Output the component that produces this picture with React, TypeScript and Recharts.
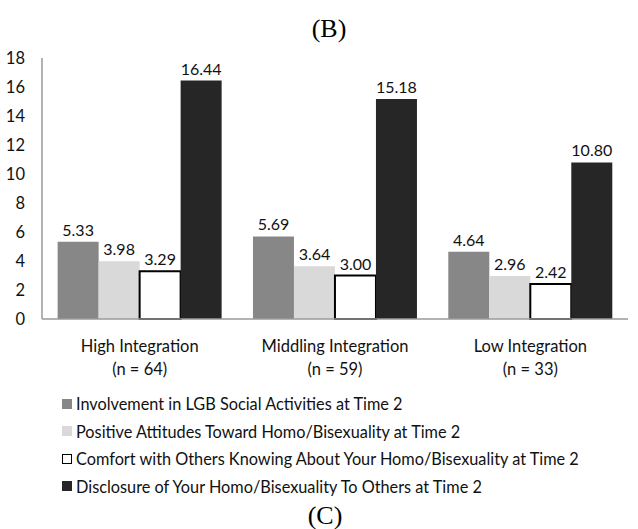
import { BarChart, Bar, XAxis, YAxis, Legend, LabelList } from "recharts";

const categories = ["High Integration", "Middling Integration", "Low Integration"];
const groupSizes = ["(n = 64)", "(n = 59)", "(n = 33)"];

const involvement = [5.33, 5.69, 4.64];
const attitudes = [3.98, 3.64, 2.96];
const comfort = [3.29, 3.0, 2.42];
const disclosure = [16.44, 15.18, 10.8];

const yTicks = [0, 2, 4, 6, 8, 10, 12, 14, 16, 18];

const SERIES = [
    { key: "involvement", name: "Involvement in LGB Social Activities at Time 2", fill: "#878787", stroke: "none" },
    { key: "attitudes", name: "Positive Attitudes Toward Homo/Bisexuality at Time 2", fill: "#d9d9d9", stroke: "none" },
    { key: "comfort", name: "Comfort with Others Knowing About Your Homo/Bisexuality at Time 2", fill: "#ffffff", stroke: "#000000" },
    { key: "disclosure", name: "Disclosure of Your Homo/Bisexuality To Others at Time 2", fill: "#262626", stroke: "none" },
];

const FONT = "Lato, 'Open Sans', sans-serif";

const data = categories.map((name, i) => ({
    name,
    n: groupSizes[i],
    involvement: involvement[i],
    attitudes: attitudes[i],
    comfort: comfort[i],
    disclosure: disclosure[i],
}));

// two line category label: name + group size
function CategoryTick(props: any) {
    const { x, y, payload, index } = props;
    return (
        <g transform={`translate(${x},${y})`}>
            <text textAnchor="middle" fontFamily={FONT} fontSize={16.5} fill="#111">
                <tspan x={0} dy={25}>{payload.value}</tspan>
                <tspan x={0} dy={23}>{groupSizes[index]}</tspan>
            </text>
        </g>
    );
}

function LegendRows() {
    return (
        <div style={{ fontFamily: FONT, fontSize: 16.3, color: "#111" }}>
            {SERIES.map((s) => (
                <div key={s.key} style={{ display: "flex", alignItems: "center", height: 27.5 }}>
                    <span
                        style={{
                            display: "inline-block",
                            width: s.stroke === "none" ? 10 : 8,
                            height: s.stroke === "none" ? 10 : 8,
                            background: s.fill,
                            border: s.stroke === "none" ? "none" : `1px solid ${s.stroke}`,
                            marginRight: 4,
                        }}
                    />
                    <span>{s.name}</span>
                </div>
            ))}
        </div>
    );
}

export default function App() {
    return (
        <div style={{ position: "absolute", left: 0, top: 0, width: 638, height: 529, background: "#fff" }}>
            <div
                style={{
                    position: "absolute",
                    top: 14,
                    width: 638,
                    left: 10,
                    textAlign: "center",
                    fontFamily: "'Liberation Serif', serif",
                    fontSize: 26,
                }}
            >
                (B)
            </div>
            <BarChart
                width={638}
                height={529}
                data={data}
                margin={{ top: 58, right: 10, bottom: 180, left: 0 }}
                barCategoryGap="8%"
                barGap={0}
            >
                <XAxis
                    dataKey="name"
                    height={30}
                    axisLine={{ stroke: "#9a9a9a", strokeWidth: 1.5 }}
                    tickLine={false}
                    tick={<CategoryTick />}
                    interval={0}
                />
                <YAxis
                    domain={[0, 18]}
                    ticks={yTicks}
                    width={42}
                    axisLine={{ stroke: "#9a9a9a", strokeWidth: 1.5 }}
                    tickLine={false}
                    tickMargin={11}
                    tick={{ fontFamily: FONT, fontSize: 16.5, fill: "#111" }}
                />
                <Legend
                    layout="vertical"
                    align="center"
                    verticalAlign="middle"
                    content={() => <LegendRows />}
                    wrapperStyle={{ left: 62, top: 390, width: 560 }}
                />
                {SERIES.map((s) => (
                    <Bar
                        key={s.key}
                        dataKey={s.key}
                        name={s.name}
                        fill={s.fill}
                        stroke={s.stroke}
                        strokeWidth={s.stroke === "none" ? 0 : 2}
                        isAnimationActive={false}
                    >
                        <LabelList
                            dataKey={s.key}
                            position="top"
                            offset={6}
                            formatter={(v: any) => Number(v).toFixed(2)}
                            style={{ fontFamily: FONT, fontSize: 16, fill: "#111" }}
                        />
                    </Bar>
                ))}
            </BarChart>
            <div
                style={{
                    position: "absolute",
                    top: 501,
                    width: 638,
                    left: 6,
                    textAlign: "center",
                    fontFamily: "'Liberation Serif', serif",
                    fontSize: 26,
                }}
            >
                (C)
            </div>
        </div>
    );
}
